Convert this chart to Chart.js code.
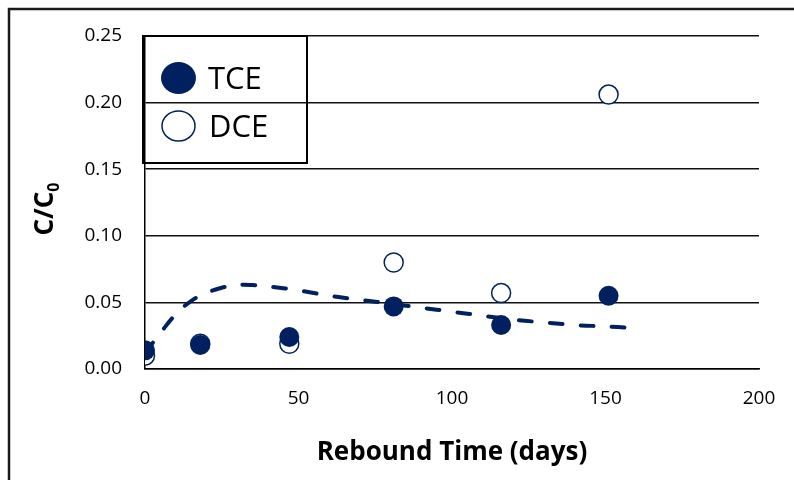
<!DOCTYPE html>
<html>
<head>
<meta charset="utf-8">
<script src="https://cdn.jsdelivr.net/npm/chart.js@4.4.1/dist/chart.umd.min.js"></script>
<style>
  html, body { margin: 0; padding: 0; background: #fff; }
  #wrap { width: 794px; height: 480px; position: relative; }
</style>
</head>
<body>
<div id="wrap"><canvas id="c" width="794" height="480"></canvas></div>
<script>
// ---- data ----
const sampleDays = [0, 18, 47, 81, 116, 151];
const tceValues  = [0.014, 0.018, 0.024, 0.047, 0.033, 0.055];
const dceValues  = [0.010, 0.019, 0.019, 0.080, 0.057, 0.206];
const modelDays   = [0, 5, 10, 15, 20, 25, 30, 35, 40, 50, 60, 70, 80, 90, 100, 110, 120, 130, 140, 150, 158];
const modelValues = [0.012, 0.027, 0.041, 0.051, 0.057, 0.061, 0.063, 0.063, 0.062, 0.059, 0.055, 0.052, 0.049, 0.046, 0.043, 0.040, 0.037, 0.035, 0.033, 0.032, 0.031];
const yTicks = [0, 0.05, 0.10, 0.15, 0.20, 0.25];
const xTicks = [0, 50, 100, 150, 200];
const seriesNames = ['TCE', 'DCE'];
const xTitle = 'Rebound Time (days)';
const yTitleMain = 'C/C';
const yTitleSub = '0';

const NAVY = '#002060';
const FONT = "'Open Sans', 'Noto Sans', sans-serif";

const toXY = (xs, ys) => xs.map((x, i) => ({ x: x, y: ys[i] }));

const framePlugin = {
  id: 'frame',
  beforeDraw(chart) {
    const ctx = chart.ctx;
    ctx.save();
    ctx.strokeStyle = '#1a1a1a';
    ctx.lineWidth = 2.5;
    ctx.beginPath();
    ctx.moveTo(9, 480);
    ctx.lineTo(9, 9);
    ctx.lineTo(794, 9);
    ctx.stroke();
    ctx.restore();
  },
  afterDraw(chart) {
    const ctx = chart.ctx;
    // y title with subscript
    ctx.save();
    ctx.translate(46, 209);
    ctx.rotate(-Math.PI / 2);
    ctx.fillStyle = '#000';
    ctx.textBaseline = 'middle';
    ctx.textAlign = 'left';
    const mainFont = "bold 26px " + FONT;
    const subFont = "bold 16px " + FONT;
    ctx.font = mainFont;
    const w1 = ctx.measureText(yTitleMain).width;
    ctx.font = subFont;
    const w2 = ctx.measureText(yTitleSub).width;
    const start = -(w1 + w2) / 2;
    ctx.font = mainFont;
    ctx.fillText(yTitleMain, start, 0);
    ctx.font = subFont;
    ctx.fillText(yTitleSub, start + w1, 8);
    ctx.restore();

    // legend box
    const lx = 143, ly = 36, lw = 164, lh = 127;
    ctx.save();
    ctx.strokeStyle = '#000';
    ctx.lineWidth = 2;
    ctx.strokeRect(lx, ly, lw, lh);
    // TCE marker
    ctx.fillStyle = NAVY;
    ctx.beginPath();
    ctx.ellipse(178.5, 78, 17.5, 16, 0, 0, Math.PI * 2);
    ctx.fill();
    // DCE marker
    ctx.fillStyle = '#fff';
    ctx.strokeStyle = NAVY;
    ctx.lineWidth = 1.5;
    ctx.beginPath();
    ctx.ellipse(178.5, 126, 16.5, 15, 0, 0, Math.PI * 2);
    ctx.fill();
    ctx.stroke();
    ctx.fillStyle = '#000';
    ctx.font = "31px " + FONT;
    ctx.textBaseline = 'middle';
    ctx.textAlign = 'left';
    ctx.fillText(seriesNames[0], 208, 80);
    ctx.fillText(seriesNames[1], 209, 128);
    ctx.restore();
  }
};

new Chart(document.getElementById('c'), {
  type: 'scatter',
  data: {
    datasets: [
      {
        type: 'line',
        label: 'model',
        data: toXY(modelDays, modelValues),
        borderColor: NAVY,
        borderWidth: 4,
        borderDash: [13, 18],
        borderCapStyle: 'round',
        pointRadius: 0,
        tension: 0.4,
        fill: false,
        order: 3
      },
      {
        label: seriesNames[1],
        data: toXY(sampleDays, dceValues),
        pointRadius: 9.5,
        pointBackgroundColor: '#fff',
        pointBorderColor: NAVY,
        pointBorderWidth: 1.5,
        backgroundColor: '#fff',
        borderColor: NAVY,
        order: 2
      },
      {
        label: seriesNames[0],
        data: toXY(sampleDays, tceValues),
        pointRadius: 10,
        pointBackgroundColor: NAVY,
        pointBorderColor: NAVY,
        pointBorderWidth: 0,
        backgroundColor: NAVY,
        borderColor: NAVY,
        order: 1
      }
    ]
  },
  options: {
    responsive: false,
    animation: false,
    layout: { padding: { left: 0, right: 35, top: 36, bottom: 0 } },
    plugins: {
      legend: { display: false },
      tooltip: { enabled: false }
    },
    scales: {
      x: {
        type: 'linear',
        min: 0, max: 200,
        afterFit(scale) { scale.height = 111; },
        afterBuildTicks(scale) { scale.ticks = xTicks.map(v => ({ value: v })); },
        grid: { display: false, drawTicks: false },
        border: { display: true, color: '#000', width: 1.5 },
        ticks: {
          padding: 18,
          color: '#000',
          font: { family: FONT, size: 19 },
          callback: v => String(v)
        },
        title: {
          display: true,
          text: xTitle,
          color: '#000',
          font: { family: FONT, size: 26, weight: 'bold' },
          padding: { top: 0, bottom: 12 }
        }
      },
      y: {
        type: 'linear',
        min: 0, max: 0.25,
        afterFit(scale) { scale.width = 145; },
        afterBuildTicks(scale) { scale.ticks = yTicks.map(v => ({ value: v })); },
        grid: { display: true, color: '#111', lineWidth: 1.5, drawTicks: false },
        border: { display: true, color: '#000', width: 1.5 },
        ticks: {
          padding: 23,
          color: '#000',
          font: { family: FONT, size: 19 },
          callback: v => Number(v).toFixed(2)
        }
      }
    }
  },
  plugins: [framePlugin]
});
</script>
</body>
</html>
